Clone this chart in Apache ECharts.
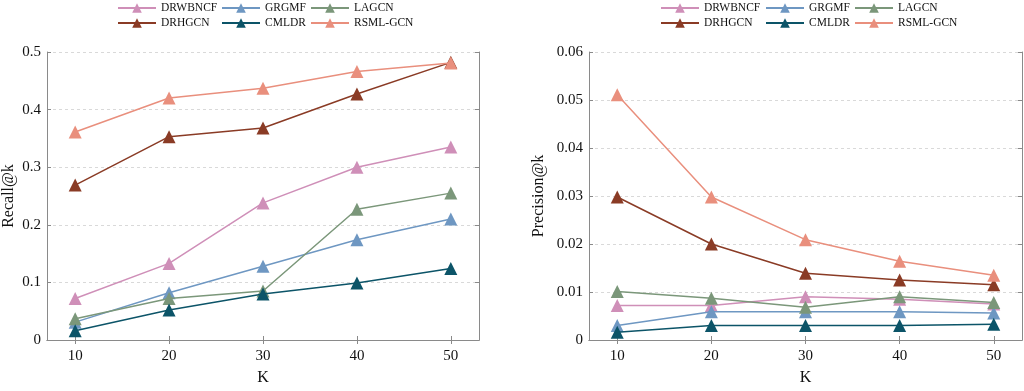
<!DOCTYPE html>
<html>
<head>
<meta charset="utf-8">
<script src="https://cdn.jsdelivr.net/npm/echarts@6/dist/echarts.min.js"></script>
<style>html,body{margin:0;padding:0;background:#fff;}#c{width:1024px;height:391px;}</style>
</head>
<body>
<div id="c"></div>
<script>
const K = [10, 20, 30, 40, 50];
const names = ['DRWBNCF', 'GRGMF', 'LAGCN', 'DRHGCN', 'CMLDR', 'RSML-GCN'];
const colors = ['#cf8fb8', '#6e97c2', '#7b977a', '#8a3b25', '#0c5468', '#e98f7d'];

const recallDRWBNCF = [0.072, 0.133, 0.238, 0.300, 0.335];
const recallGRGMF   = [0.031, 0.082, 0.128, 0.174, 0.210];
const recallLAGCN   = [0.037, 0.072, 0.085, 0.227, 0.255];
const recallDRHGCN  = [0.269, 0.353, 0.368, 0.427, 0.482];
const recallCMLDR   = [0.016, 0.052, 0.080, 0.099, 0.124];
const recallRSML    = [0.361, 0.420, 0.437, 0.466, 0.481];

const precDRWBNCF = [0.0072, 0.0072, 0.0090, 0.0085, 0.0075];
const precGRGMF   = [0.0030, 0.0059, 0.0059, 0.0059, 0.0056];
const precLAGCN   = [0.0101, 0.0087, 0.0068, 0.0090, 0.0078];
const precDRHGCN  = [0.0298, 0.0200, 0.0139, 0.0125, 0.0115];
const precCMLDR   = [0.0016, 0.0030, 0.0030, 0.0030, 0.0033];
const precRSML    = [0.0511, 0.0298, 0.0209, 0.0164, 0.0135];

const recallTicks = [0, 0.1, 0.2, 0.3, 0.4, 0.5];
const precTicks = [0, 0.01, 0.02, 0.03, 0.04, 0.05, 0.06];

const recallSets = [recallDRWBNCF, recallGRGMF, recallLAGCN, recallDRHGCN, recallCMLDR, recallRSML];
const precSets = [precDRWBNCF, precGRGMF, precLAGCN, precDRHGCN, precCMLDR, precRSML];

const FONT = 'Liberation Serif';
const axisColor = '#8a8a8a';

function xAxes(gridIndex) {
  return [
    {
      type: 'value', gridIndex, min: 7, max: 53, name: 'K', nameLocation: 'middle', nameGap: 30,
      nameTextStyle: {fontFamily: FONT, fontSize: 16, color: '#111'},
      axisLine: {lineStyle: {color: axisColor, width: 1}},
      axisTick: {inside: true, length: 4, customValues: K, lineStyle: {color: axisColor}},
      axisLabel: {customValues: K, fontFamily: FONT, fontSize: 15, color: '#111', margin: 9},
      splitLine: {show: false}
    },
    {
      type: 'value', gridIndex, position: 'top', min: 7, max: 53,
      axisLine: {lineStyle: {color: axisColor, width: 1}},
      axisTick: {inside: true, length: 4, customValues: K, lineStyle: {color: axisColor}},
      axisLabel: {show: false},
      splitLine: {show: false}
    }
  ];
}

function yAxes(gridIndex, max, interval, name, nameGap) {
  return [
    {
      type: 'value', gridIndex, min: 0, max, interval, name, nameLocation: 'middle', nameGap,
      nameTextStyle: {fontFamily: FONT, fontSize: 16, color: '#111'},
      axisLine: {show: true, lineStyle: {color: axisColor, width: 1}},
      axisTick: {show: true, inside: true, length: 4, lineStyle: {color: axisColor}},
      axisLabel: {fontFamily: FONT, fontSize: 15, color: '#111', margin: 6},
      splitLine: {show: true, lineStyle: {color: '#d9d9d9', type: [3, 3], width: 1}}
    },
    {
      type: 'value', gridIndex, position: 'right', min: 0, max, interval,
      axisLine: {show: true, lineStyle: {color: axisColor, width: 1}},
      axisTick: {show: true, inside: true, length: 4, lineStyle: {color: axisColor}},
      axisLabel: {show: false},
      splitLine: {show: false}
    }
  ];
}

const series = [];
names.forEach((n, i) => {
  series.push({
    name: n, type: 'line', xAxisIndex: 0, yAxisIndex: 0,
    data: K.map((k, j) => [k, recallSets[i][j]]),
    symbol: 'triangle', symbolSize: 13,
    itemStyle: {color: colors[i]}, lineStyle: {color: colors[i], width: 1.5},
    animation: false, z: 2 + i
  });
  series.push({
    name: n, type: 'line', xAxisIndex: 2, yAxisIndex: 2,
    data: K.map((k, j) => [k, precSets[i][j]]),
    symbol: 'triangle', symbolSize: 13,
    itemStyle: {color: colors[i]}, lineStyle: {color: colors[i], width: 1.5},
    animation: false, z: 2 + i
  });
});

function legendCol(left, items) {
  return {
    orient: 'vertical', left, top: 2, padding: 0, itemWidth: 38, itemHeight: 12, itemGap: 3,
    data: items, selectedMode: false,
    textStyle: {fontFamily: FONT, fontSize: 11.5, color: '#111', padding: [0, 0, 0, 0]}
  };
}

const option = {
  animation: false,
  backgroundColor: '#fff',
  legend: [
    legendCol(117, ['DRWBNCF', 'DRHGCN']),
    legendCol(221, ['GRGMF', 'CMLDR']),
    legendCol(310, ['LAGCN', 'RSML-GCN']),
    legendCol(660, ['DRWBNCF', 'DRHGCN']),
    legendCol(765, ['GRGMF', 'CMLDR']),
    legendCol(854, ['LAGCN', 'RSML-GCN'])
  ],
  grid: [
    {left: 45, top: 52, width: 434, height: 297},
    {left: 589, top: 52, width: 433, height: 297}
  ],
  xAxis: [...xAxes(0), ...xAxes(1)],
  yAxis: [...yAxes(0, 0.5, 0.1, 'Recall@k', 30), ...yAxes(1, 0.06, 0.01, 'Precision@k', 42)],
  series
};

const chart = echarts.init(document.getElementById('c'), null, {renderer: 'canvas'});
chart.setOption(option);
</script>
</body>
</html>
